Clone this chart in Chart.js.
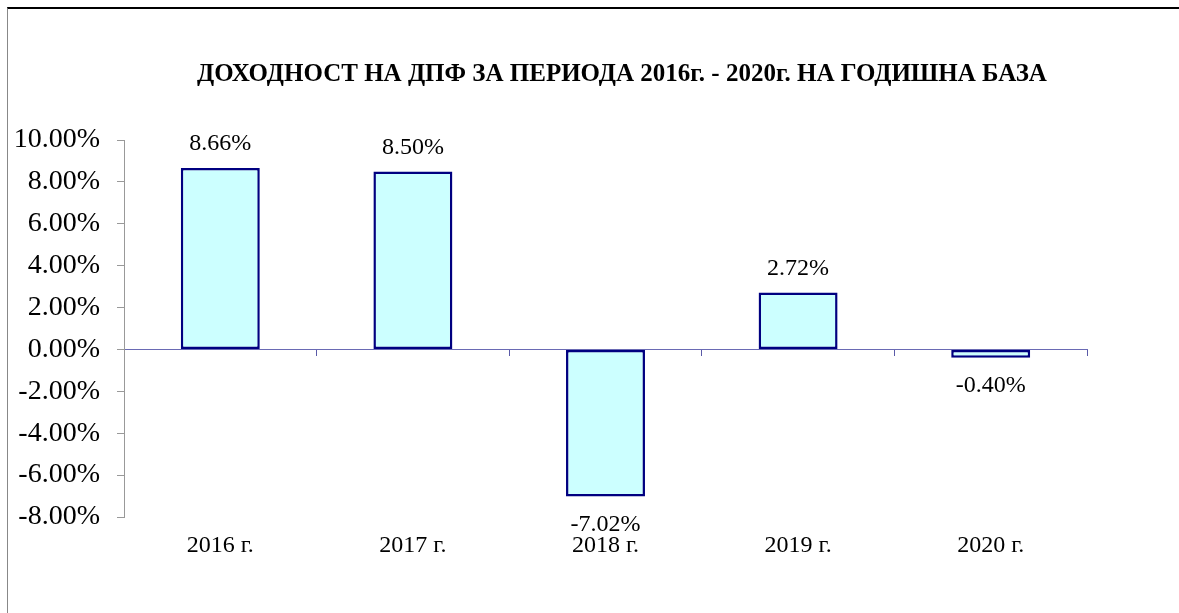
<!DOCTYPE html>
<html>
<head>
<meta charset="utf-8">
<script src="https://cdn.jsdelivr.net/npm/chart.js@4"></script>
<style>
    body { margin: 0; background: #fff; }
    #wrap { position: relative; width: 1179px; height: 613px; }
    #frame {
        position: absolute; left: 7px; top: 7px; right: 0; bottom: 0;
        border-top: 2px solid #000; border-left: 1px solid #888;
        pointer-events: none;
    }
</style>
</head>
<body>
<div id="wrap">
    <canvas id="ChartYield" width="1179" height="613"></canvas>
    <div id="frame"></div>
</div>
<script>
var chartTitle = 'ДОХОДНОСТ НА ДПФ ЗА ПЕРИОДА 2016г. - 2020г. НА ГОДИШНА БАЗА';
var years = ['2016 г.', '2017 г.', '2018 г.', '2019 г.', '2020 г.'];
var yieldValues = [8.66, 8.50, -7.02, 2.72, -0.40];
var yTicks = [-8, -6, -4, -2, 0, 2, 4, 6, 8, 10];

function pct(v) {
    return v.toFixed(2) + '%';
}

// title sits a bit right of the plot centre, like the original sheet
var titlePlugin = {
    id: 'sheetTitle',
    afterDraw: function (chart) {
        var ctx = chart.ctx;
        ctx.save();
        ctx.font = 'bold 25px "Liberation Serif"';
        ctx.fillStyle = '#000';
        ctx.textAlign = 'center';
        ctx.textBaseline = 'middle';
        ctx.fillText(chartTitle, 622, 75);
        ctx.restore();
    }
};

// data labels above / below the bars
var barLabels = {
    id: 'barLabels',
    afterDatasetsDraw: function (chart) {
        var ctx = chart.ctx;
        var meta = chart.getDatasetMeta(0);
        ctx.save();
        ctx.font = '24px "Liberation Serif"';
        ctx.fillStyle = '#000';
        ctx.textAlign = 'center';
        ctx.textBaseline = 'middle';
        meta.data.forEach(function (bar, i) {
            var v = yieldValues[i];
            var y = v >= 0 ? bar.y - 24 : bar.y + 28;
            ctx.fillText(pct(v), bar.x, y);
        });
        ctx.restore();
    }
};

var ctx = document.getElementById('ChartYield').getContext('2d');

var graph = new Chart(ctx, {
    type: 'bar',
    data: {
        labels: years,
        datasets: [
            {
                label: 'Доходност',
                data: yieldValues,
                backgroundColor: '#ccffff',
                borderColor: '#000080',
                borderWidth: 2.5,
                borderSkipped: false,
                categoryPercentage: 1,
                barPercentage: 0.41,
                xAxisID: 'x',
                yAxisID: 'y'
            }
        ]
    },
    options: {
        responsive: false,
        animation: false,
        layout: { padding: { left: 0, right: 92, top: 140, bottom: 0 } },
        plugins: {
            legend: { display: false },
            tooltip: { enabled: false },
            title: { display: false }
        },
        scales: {
            x: {
                position: 'bottom',
                grid: { display: false, drawTicks: false },
                border: { display: false },
                ticks: {
                    color: '#000',
                    padding: 14,
                    font: { family: '"Liberation Serif"', size: 24 }
                },
                afterFit: function (s) { s.height = 96; }
            },
            x2: {
                type: 'category',
                labels: years,
                position: { y: 0 },
                offset: true,
                grid: {
                    offset: true,
                    drawOnChartArea: false,
                    drawTicks: true,
                    tickLength: 6,
                    color: '#5a5aa8'
                },
                border: { color: '#6a6ab4', width: 1 },
                ticks: { display: false }
            },
            y: {
                min: -8,
                max: 10,
                afterBuildTicks: function (s) {
                    s.ticks = yTicks.map(function (v) { return { value: v }; });
                },
                grid: {
                    drawOnChartArea: false,
                    drawTicks: true,
                    tickLength: 7,
                    color: '#999'
                },
                border: { color: '#999', width: 1 },
                ticks: {
                    color: '#000',
                    padding: 17,
                    font: { family: '"Liberation Serif"', size: 28 },
                    callback: function (v) { return pct(v); }
                },
                afterFit: function (s) { s.width = 124; }
            }
        }
    },
    plugins: [barLabels, titlePlugin]
});
</script>
</body>
</html>
